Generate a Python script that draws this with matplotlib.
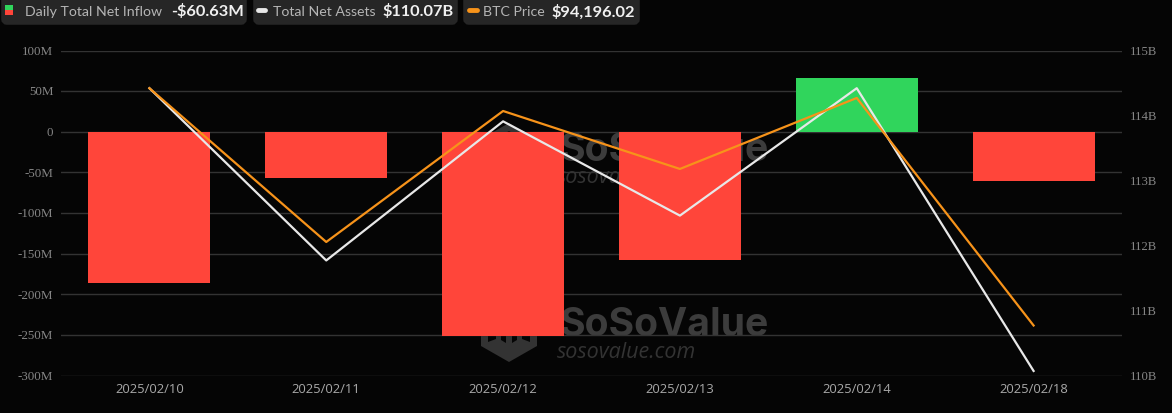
import matplotlib
matplotlib.use("Agg")
import matplotlib.pyplot as plt
from matplotlib.patches import FancyBboxPatch, Polygon, Rectangle
from matplotlib.transforms import ScaledTranslation

dates = ["2025/02/10", "2025/02/11", "2025/02/12", "2025/02/13", "2025/02/14", "2025/02/18"]
net_inflow_m = [-186, -56.6, -251, -157.5, 66.5, -60.63]
net_assets_b = [114.42, 111.77, 113.91, 112.46, 114.42, 110.07]
btc_price = [97565, 95382, 97242, 96419, 97427, 94196]
left_ticks = [100, 50, 0, -50, -100, -150, -200, -250, -300]
left_labels = ["100M", "50M", "0", "-50M", "-100M", "-150M", "-200M", "-250M", "-300M"]
right_ticks = [110, 111, 112, 113, 114, 115]
right_labels = ["110B", "111B", "112B", "113B", "114B", "115B"]

W, H = 1172, 414
BG = "#050505"
GREEN, RED, WHITE, ORANGE = "#30d55c", "#ff453a", "#e8e8e8", "#f7931a"
fig = plt.figure(figsize=(W / 100, H / 100), dpi=100, facecolor=BG)

# pixel-space backdrop for header and watermark
bgax = fig.add_axes([0, 0, 1, 1], zorder=0)
bgax.set_xlim(0, W); bgax.set_ylim(H, 0); bgax.axis("off")

def wm(x, y):
    bgax.text(x + 78, y + 2, "SoSoValue", color="#3c3c3c", fontsize=28.2, fontweight="bold",
              family="Inter", va="center", ha="left")
    bgax.text(x + 76, y + 29, "sosovalue.com", color="#333333", fontsize=15.5,
              family="Open Sans", style="italic", va="center", ha="left")
    gray = "#333333"
    bgax.add_patch(Polygon([(x + 28, y - 25), (x + 56, y - 9), (x + 56, y + 23), (x + 28, y + 39),
                            (x, y + 23), (x, y - 9)], closed=True, fc=gray, ec="none"))
    # inner cut-outs of the logo
    bgax.add_patch(Polygon([(x + 7, y + 2), (x + 15, y + 7), (x + 15, y + 16), (x + 7, y + 19)],
                           closed=True, fc=BG, ec="none"))
    bgax.add_patch(Polygon([(x + 49, y + 2), (x + 41, y + 7), (x + 41, y + 16), (x + 49, y + 19)],
                           closed=True, fc=BG, ec="none"))
    bgax.add_patch(Polygon([(x + 20, y + 7), (x + 25, y + 7), (x + 25, y + 20), (x + 20, y + 17)],
                           closed=True, fc=BG, ec="none"))
    bgax.add_patch(Polygon([(x + 36, y + 7), (x + 31, y + 7), (x + 31, y + 20), (x + 36, y + 17)],
                           closed=True, fc=BG, ec="none"))
    bgax.add_patch(Polygon([(x + 7, y - 5), (x + 28, y - 17), (x + 49, y - 5), (x + 28, y + 6)],
                           closed=True, fc=BG, ec="none"))
wm(481, 324)
wm(481, 149)

# header pills
for x0, x1 in [(1, 247), (253, 458), (463, 640)]:
    bgax.add_patch(FancyBboxPatch((x0 + 3, -6), x1 - x0 - 6, 29, boxstyle="round,pad=0,rounding_size=3",
                                  mutation_scale=1, fc="#262626", ec="#262626", lw=4))
bgax.add_patch(Rectangle((5, 6), 8, 5, fc=GREEN, ec="none"))
bgax.add_patch(Rectangle((5, 11), 8, 5, fc=RED, ec="none"))
bgax.plot([258, 265], [11, 11], color=WHITE, lw=3.5, solid_capstyle="round")
bgax.plot([469, 477], [11, 11], color=ORANGE, lw=3.5, solid_capstyle="round")
for x, s, c, fw, fs in [(25, "Daily Total Net Inflow", "#b5b5b5", "normal", 10.2),
                        (171, "-$60.63M", "#f0f0f0", "bold", 11.8),
                        (273, "Total Net Assets", "#b5b5b5", "normal", 10.2),
                        (382, "$110.07B", "#f0f0f0", "bold", 11.8),
                        (483, "BTC Price", "#b5b5b5", "normal", 10.2),
                        (551, "$94,196.02", "#f0f0f0", "bold", 11.8)]:
    bgax.text(x, 12, s, color=c, fontweight=fw, fontsize=fs, family="Lato", va="center", ha="left")

# plot area in pixels: x 61..1122, y 51.5..376.5
rect = [61 / W, 1 - 376.5 / H, (1122 - 61) / W, 325 / H]
ax = fig.add_axes(rect, zorder=1, facecolor="none")
pos = list(range(len(dates)))
ax.set_xlim(-0.5, 5.5)
ax.set_ylim(-300, 100)
ax.set_yticks(left_ticks, left_labels)
ax.set_xticks(pos, dates)
ax.grid(axis="y", color="#333333", lw=1)
ax.set_axisbelow(True)
ax.bar(pos, net_inflow_m, width=0.69, color=[GREEN if v > 0 else RED for v in net_inflow_m], zorder=2)
for s in ax.spines.values():
    s.set_visible(False)
ax.tick_params(length=0)
ax.tick_params(axis="y", pad=5.5, labelcolor="#858585", labelsize=9.4, labelfontfamily="Liberation Serif")
ax.tick_params(axis="x", pad=4.5, labelcolor="#a8a8a8", labelsize=9.4, labelfontfamily="Open Sans")

ax2 = ax.twinx()
ax2.set_ylim(110, 115)
ax2.set_yticks(right_ticks, right_labels)
ax2.plot(pos, net_assets_b, color=WHITE, lw=1.6, zorder=3)
ax2.tick_params(length=0, pad=5.5, labelcolor="#858585", labelsize=9.2, labelfontfamily="Liberation Serif")
for s in ax2.spines.values():
    s.set_visible(False)

ax3 = ax.twinx()
ax3.set_ylim(93486, 98101)
ax3.plot(pos, btc_price, color=ORANGE, lw=1.6, zorder=4)
ax3.axis("off")

# nudge y tick labels up about one pixel
up = ScaledTranslation(0, 1.2 / 100, fig.dpi_scale_trans)
for a in (ax, ax2):
    for t in a.get_yticklabels():
        t.set_transform(t.get_transform() + up)

fig.savefig("out.png", dpi=100, facecolor=BG)
